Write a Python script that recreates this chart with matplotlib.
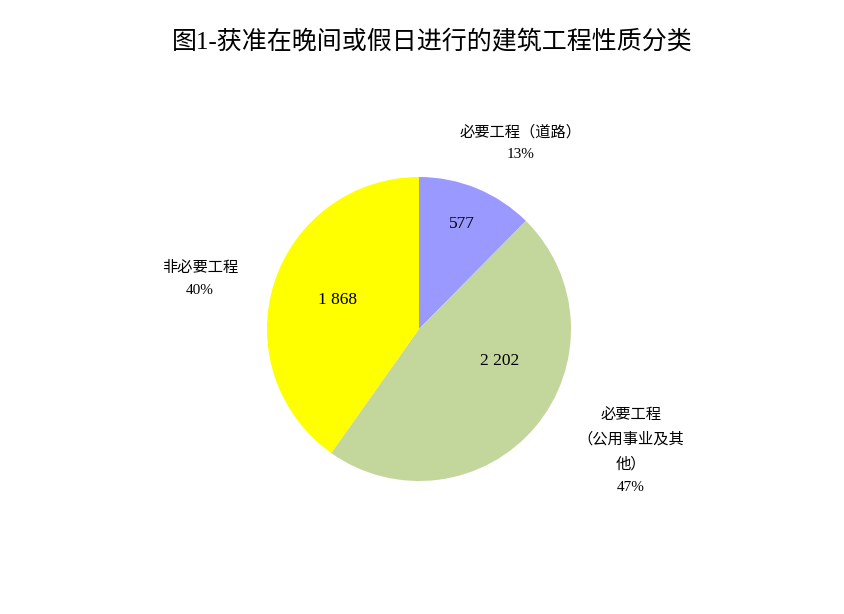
import matplotlib
matplotlib.use("Agg")
import matplotlib.pyplot as plt

title = "图1-获准在晚间或假日进行的建筑工程性质分类"
categories = ["必要工程（道路）", "必要工程（公用事业及其他）", "非必要工程"]
values = [577, 2202, 1868]
value_labels = ["577", "2 202", "1 868"]
outer_labels = ["必要工程（道路）\n13%", "必要工程\n（公用事业及其\n他）\n47%", "非必要工程\n40%"]
colors = ["#9999FF", "#C3D69B", "#FFFF00"]

fam = ["Liberation Serif", "Noto Sans CJK SC", "DejaVu Sans"]
plt.rcParams["font.family"] = fam

W, H = 844, 614
fig = plt.figure(figsize=(W / 100, H / 100), dpi=100)
ax = fig.add_axes([0, 0, 1, 1])

cx, cy, r = 419, H - 329, 152
ax.pie(values, colors=colors, startangle=90, counterclock=False,
       center=(cx, cy), radius=r, wedgeprops=dict(linewidth=0), frame=True)
ax.set_xlim(0, W)
ax.set_ylim(0, H)
ax.set_aspect("equal")
ax.axis("off")

# value labels inside
val_pos = [(462, H - 224), (500, H - 361), (337, H - 300)]
for (x, y), t in zip(val_pos, value_labels):
    ax.text(x, y, t, ha="center", va="center", fontsize=12.5, color="black")

# outer labels
out_pos = [(521, H - 143), (631, H - 451), (200, H - 279)]
for (x, y), t in zip(out_pos, outer_labels):
    ax.text(x, y, t, ha="center", va="center", fontsize=11, linespacing=1.9,
            color="black")

fig.text(432 / W, 1 - 42 / H, title, ha="center", va="center", fontsize=18, color="black")

fig.savefig("out.png", dpi=100)
